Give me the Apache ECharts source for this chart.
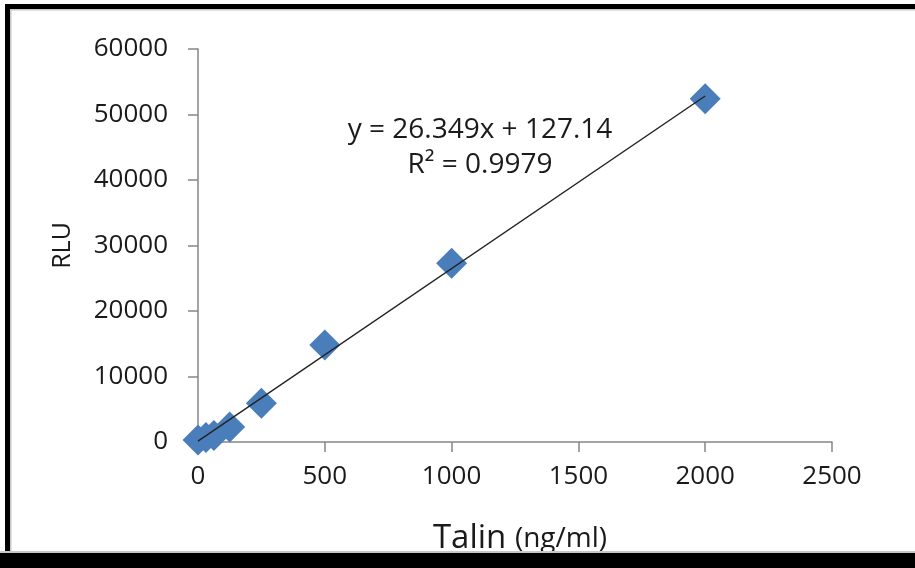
<!DOCTYPE html>
<html>
<head>
<meta charset="utf-8">
<script src="https://cdn.jsdelivr.net/npm/echarts@6/dist/echarts.min.js"></script>
<style>
html,body{margin:0;padding:0;background:#fff;}
#c{width:915px;height:568px;}
</style>
</head>
<body>
<div id="c"></div>
<script>
// Data
var talinX = [0, 31.25, 62.5, 125, 250, 500, 1000, 2000];
var rluY   = [300, 700, 1000, 2300, 5900, 14800, 27300, 52400];
// Excel linear trendline (y = 26.349x + 127.14), endpoints
var trendX = [0, 2000];
var trendY = [127.14, 52825.14];
var xTicks = [0, 500, 1000, 1500, 2000, 2500];
var yTicks = [0, 10000, 20000, 30000, 40000, 50000, 60000];
var eqLine1 = 'y = 26.349x + 127.14';
var eqLine2 = 'R\u00B2 = 0.9979';

var FONT = 'Open Sans';
var chart = echarts.init(document.getElementById('c'));
var pts = talinX.map(function(x, i){ return [x, rluY[i]]; });
var tr = trendX.map(function(x, i){ return [x, trendY[i]]; });
function plain(v){ return String(v); }

chart.setOption({
  animation: false,
  backgroundColor: '#ffffff',
  textStyle: {fontFamily: FONT},
  grid: {left: 198, right: 83, top: 49, bottom: 126, containLabel: false, outerBoundsMode: 'none'},
  xAxis: {
    type: 'value', min: xTicks[0], max: xTicks[xTicks.length-1], interval: 500,
    splitLine: {show: false},
    axisLine: {show: true, lineStyle: {color: '#868686', width: 1.5}},
    axisTick: {show: true, inside: false, length: 10, lineStyle: {color: '#868686', width: 1.5}},
    axisLabel: {color: '#1a1a1a', fontSize: 26, fontFamily: FONT, margin: 22, formatter: plain},
    name: '{a|Talin }{b|(ng/ml)}',
    nameLocation: 'middle',
    nameGap: 79,
    nameTextStyle: {
      padding: [0, 0, 0, 10],
      rich: {
        a: {fontSize: 33, fontFamily: FONT, color: '#1a1a1a', lineHeight: 36},
        b: {fontSize: 28, fontFamily: FONT, color: '#1a1a1a', lineHeight: 36}
      }
    }
  },
  yAxis: {
    type: 'value', min: yTicks[0], max: yTicks[yTicks.length-1], interval: 10000,
    splitLine: {show: false},
    axisLine: {show: true, lineStyle: {color: '#868686', width: 1.5}},
    axisTick: {show: true, inside: false, length: 10, lineStyle: {color: '#868686', width: 1.5}},
    axisLabel: {color: '#1a1a1a', fontSize: 26, fontFamily: FONT, margin: 30, formatter: plain},
    name: 'RLU',
    nameLocation: 'middle',
    nameGap: 123,
    nameRotate: 90,
    nameTextStyle: {fontSize: 25, fontFamily: FONT, color: '#1a1a1a'}
  },
  series: [
    {
      type: 'scatter',
      data: pts,
      symbol: 'diamond',
      symbolSize: 31,
      itemStyle: {color: '#4a7ebb', opacity: 1},
      z: 2
    },
    {
      type: 'line',
      data: tr,
      symbol: 'none',
      lineStyle: {color: '#222', width: 1.4},
      z: 3,
      silent: true
    }
  ],
  graphic: [
    {type: 'rect', shape: {x: 5, y: 4, width: 910, height: 5}, style: {fill: '#000'}, z: 100},
    {type: 'rect', shape: {x: 5, y: 4, width: 5, height: 550}, style: {fill: '#000'}, z: 100},
    {type: 'rect', shape: {x: 10, y: 9, width: 905, height: 1.5}, style: {fill: '#c8c8c8'}, z: 100},
    {type: 'rect', shape: {x: 10, y: 9, width: 1.5, height: 543}, style: {fill: '#c8c8c8'}, z: 100},
    {type: 'rect', shape: {x: 0, y: 551, width: 915, height: 2}, style: {fill: '#c8c8c8'}, z: 100},
    {type: 'rect', shape: {x: 0, y: 553, width: 915, height: 15}, style: {fill: '#000'}, z: 100},
    {type: 'text', x: 480, y: 130, style: {text: eqLine1, fontSize: 28, fontFamily: FONT, fill: '#1a1a1a', textAlign: 'center', textVerticalAlign: 'middle'}, z: 50},
    {type: 'text', x: 480, y: 165, style: {text: eqLine2, fontSize: 28, fontFamily: FONT, fill: '#1a1a1a', textAlign: 'center', textVerticalAlign: 'middle'}, z: 50}
  ]
});
</script>
</body>
</html>
